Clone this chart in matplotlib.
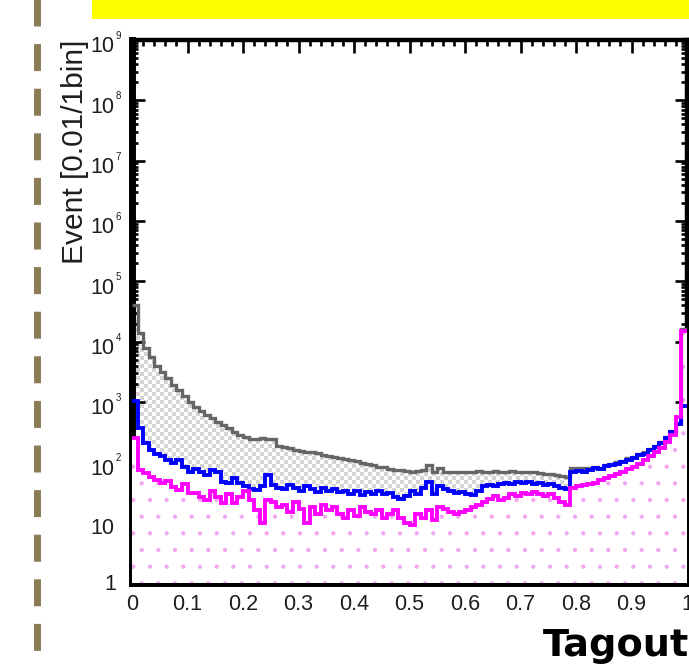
import numpy as np
import matplotlib
matplotlib.use("Agg")
import matplotlib.pyplot as plt
from matplotlib.colors import ListedColormap
from matplotlib.patches import Rectangle
from matplotlib.lines import Line2D

# ---------------- data (100 bins of 0.01 over [0,1]) ----------------
bin_edges = np.linspace(0.0, 1.0, 101)

total_bkg = [40000, 14000, 7900, 5600, 4000, 3150, 2500, 1900, 1600, 1260,
             1000, 830, 710, 620, 550, 470, 420, 370, 320, 285,
             265, 245, 240, 250, 245, 240, 190, 180, 175, 160,
             155, 150, 148, 145, 130, 125, 122, 120, 112, 110,
             105, 98, 95, 92, 85, 83, 78, 76, 75, 72,
             70, 72, 74, 92, 70, 80, 70, 68, 69, 70,
             68, 70, 71, 69, 70, 72, 70, 69, 71, 70,
             68, 69, 70, 66, 65, 64, 62, 60, 58, 82,
             82, 80, 82, 84, 82, 90, 95, 100, 105, 116,
             124, 137, 147, 168, 189, 220, 263, 336, 452, 16000]

blue_bkg = [1050, 370, 210, 160, 135, 125, 110, 97, 110, 85,
            70, 78, 68, 62, 75, 70, 48, 46, 55, 45,
            40, 36, 35, 40, 62, 42, 38, 36, 42, 38,
            34, 40, 36, 32, 38, 34, 36, 32, 34, 30,
            33, 29, 32, 30, 34, 30, 31, 27, 25, 28,
            33, 30, 38, 47, 30, 40, 36, 34, 31, 32,
            30, 29, 34, 40, 42, 40, 44, 46, 43, 48,
            45, 47, 44, 46, 42, 44, 41, 38, 36, 70,
            72, 68, 74, 80, 78, 86, 90, 95, 100, 110,
            118, 130, 140, 160, 180, 210, 250, 320, 430, 850]

signal = [250, 75, 66, 57, 51, 46, 49, 39, 35, 44,
          31, 31, 27, 24, 34, 27, 21, 30, 21, 27,
          34, 24, 16, 10, 24, 22, 18, 20, 15, 22,
          17, 10, 18, 14, 20, 16, 18, 14, 12, 16,
          13, 18, 15, 14, 16, 12, 14, 16, 12, 10,
          9, 14, 12, 16, 11, 18, 17, 15, 14, 15,
          16, 18, 20, 22, 25, 28, 24, 26, 30, 28,
          31, 30, 32, 30, 28, 30, 26, 22, 20, 38,
          40, 42, 44, 46, 50, 55, 60, 65, 70, 78,
          85, 95, 110, 125, 150, 175, 220, 280, 570, 15000]

x_ticks = [0.0, 0.1, 0.2, 0.3, 0.4, 0.5, 0.6, 0.7, 0.8, 0.9, 1.0]
x_tick_labels = ["0", "0.1", "0.2", "0.3", "0.4", "0.5", "0.6", "0.7", "0.8", "0.9", "1"]
y_decades = [0, 1, 2, 3, 4, 5, 6, 7, 8, 9]

y_label = "Event [0.01/1bin]"
x_title = "Tagout"

# ---------------- figure ----------------
W, H = 689, 664
fig = plt.figure(figsize=(W / 100, H / 100), dpi=100)
fig.patch.set_facecolor("white")

lab_font = ["Liberation Sans", "DejaVu Sans"]
lab_col = "#1e1e1e"

ax_l, ax_r, ax_t, ax_b = 132, 687, 40, 583
ax = fig.add_axes([ax_l / W, 1 - ax_b / H, (ax_r - ax_l) / W, (ax_b - ax_t) / H])

# checkerboard used as fill pattern for the total background
aw, ah = ax_r - ax_l, ax_b - ax_t
yy, xx = np.mgrid[0:ah, 0:aw]
checker = ((yy // 4 + xx // 4) % 2).astype(float)
im = ax.imshow(checker, cmap=ListedColormap(["white", "#d4d4d4"]),
               extent=[0, 1, 0, 1], transform=ax.transAxes,
               interpolation="nearest", aspect="auto", zorder=1)

ax.set_yscale("log")
ax.set_xlim(0, 1)
ax.set_ylim(1, 1e9)

clip_patch = ax.stairs(total_bkg, bin_edges, baseline=1, fill=True,
                       facecolor="none", edgecolor="none", zorder=0)
im.set_clip_path(clip_patch)

# blue: white fill ; signal: white fill with small pink dots
ax.stairs(blue_bkg, bin_edges, baseline=1, fill=True,
          facecolor="white", edgecolor="none", linewidth=0, zorder=2)
plt.rcParams["hatch.linewidth"] = 0.6
ax.stairs(signal, bin_edges, baseline=1, fill=True,
          facecolor="white", edgecolor="#f2a6f2", hatch=".", linewidth=0, zorder=3)

# outlines
ax.stairs(total_bkg, bin_edges, baseline=None, color="#666666", linewidth=2.4, zorder=4)
ax.stairs(blue_bkg, bin_edges, baseline=None, color="#0000ff", linewidth=2.8, zorder=5)
ax.stairs(signal, bin_edges, baseline=None, color="#ff00ff", linewidth=2.8, zorder=6)

# axes style (ROOT-like)
for side in ["left", "bottom"]:
    ax.spines[side].set_linewidth(5.0)
for side in ["top", "right"]:
    ax.spines[side].set_linewidth(3.2)

ax.set_xticks(x_ticks)
ax.set_xticks(np.arange(0, 1.0001, 0.02), minor=True)
ax.set_xticklabels(x_tick_labels, family=lab_font, fontsize=15.5, color=lab_col)
ax.set_yticks([10.0 ** k for k in y_decades])
ax.yaxis.set_minor_locator(matplotlib.ticker.LogLocator(base=10, subs=np.arange(2, 10), numticks=20))
ax.yaxis.set_minor_formatter(matplotlib.ticker.NullFormatter())
ax.set_yticklabels([])
ax.tick_params(which="both", direction="in", top=True, right=True, width=1.9, color="black")
ax.tick_params(which="major", length=9)
ax.tick_params(which="minor", length=4.5)
ax.tick_params(axis="x", which="major", pad=8)

# y tick labels as "10" + small superscript
for k in y_decades:
    yv = 10.0 ** k
    if k == 0:
        ax.annotate("1", xy=(0, yv), xycoords=("axes fraction", "data"),
                    xytext=(-11, -1), textcoords="offset points",
                    ha="right", va="center", family=lab_font, fontsize=15.5, color=lab_col)
    elif k == 1:
        ax.annotate("10", xy=(0, yv), xycoords=("axes fraction", "data"),
                    xytext=(-13, -4), textcoords="offset points",
                    ha="right", va="center", family=lab_font, fontsize=15.5, color=lab_col)
    else:
        ax.annotate("10", xy=(0, yv), xycoords=("axes fraction", "data"),
                    xytext=(-13, -5), textcoords="offset points",
                    ha="right", va="center", family=lab_font, fontsize=15.5, color=lab_col)
        ax.annotate(str(k), xy=(0, yv), xycoords=("axes fraction", "data"),
                    xytext=(-12, 3), textcoords="offset points",
                    ha="left", va="center", family=lab_font, fontsize=7, color=lab_col)

fig.text(75 / W, 1 - 40 / H, y_label, rotation=90, ha="center", va="top",
         family=lab_font, fontsize=21.5, color=lab_col)

# x title (bold, partly out of frame)
fig.text(543 / W, 1 - 656 / H, x_title, ha="left", va="baseline",
         family="DejaVu Sans", fontweight="bold", fontsize=27.5, color="black")

# slide decorations: yellow title bar and dashed brown separator
fig.patches.append(Rectangle((92 / W, 1 - 19 / H), 1 - 92 / W, 19 / H,
                             transform=fig.transFigure, facecolor="#ffff00",
                             edgecolor="none", zorder=0))
fig.lines.append(Line2D([36.5 / W, 36.5 / W], [1 + 4.6 / H, 0],
                        transform=fig.transFigure, color="#8b7b55",
                        linewidth=5.0, linestyle=(0, (27 * 0.72 / 5, 17.6 * 0.72 / 5)),
                        solid_capstyle="butt", dash_capstyle="butt"))

fig.savefig("out.png", dpi=100)
